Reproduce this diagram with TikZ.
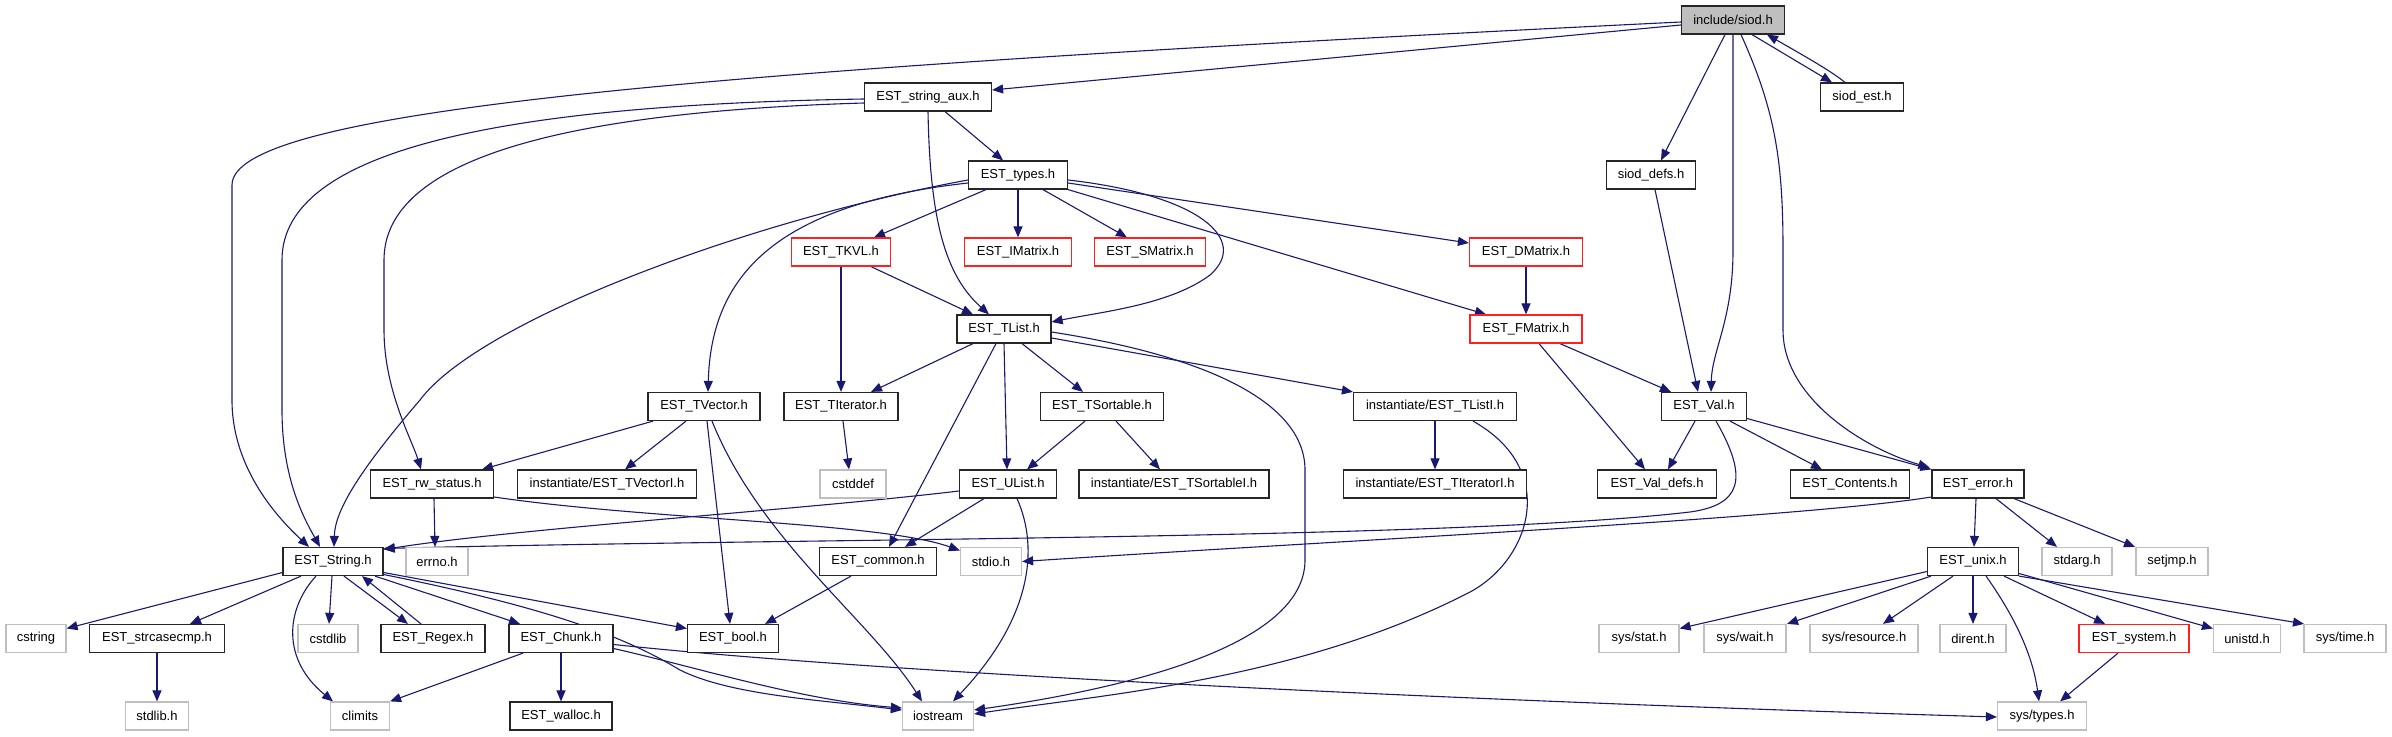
\documentclass[tikz,border=0pt]{standalone}
\usepackage{fontspec}
\setmainfont{Liberation Sans}
\usetikzlibrary{arrows.meta,backgrounds}
\definecolor{edgec}{HTML}{191970}
\definecolor{grayb}{HTML}{BFBFBF}
\definecolor{redc}{HTML}{FF2020}
\begin{document}
\begin{tikzpicture}[x=1pt,y=-1pt,
 box/.style={draw=black!85,line width=1.2pt,minimum height=28pt,inner sep=0pt,font=\fontsize{13}{15}\selectfont,fill=white},
 sys/.style={box,draw=grayb},
 redb/.style={box,draw=redc},
 root/.style={box,fill=grayb},
 e/.style={draw=edgec,line width=1.1pt,-{Triangle[length=11pt,width=9pt]}}]
\useasboundingbox (0,0) rectangle (2392,736);
% row 0
\node[root,minimum width=103pt] (siod) at (1733,20) {include/siod.h};
% row 1
\node[box,minimum width=127pt] (saux) at (928,97) {EST\_string\_aux.h};
\node[box,minimum width=83pt] (sest) at (1862,97) {siod\_est.h};
% row 2
\node[box,minimum width=99pt] (types) at (1018,175) {EST\_types.h};
\node[box,minimum width=89pt] (sdefs) at (1651,175) {siod\_defs.h};
% row 3
\node[redb,minimum width=99pt] (tkvl) at (841,252) {EST\_TKVL.h};
\node[redb,minimum width=107pt] (imat) at (1018,252) {EST\_IMatrix.h};
\node[redb,minimum width=111pt] (smat) at (1150,252) {EST\_SMatrix.h};
\node[redb,minimum width=113pt] (dmat) at (1526,252) {EST\_DMatrix.h};
% row 4
\node[box,minimum width=94pt] (tlist) at (1004,329) {EST\_TList.h};
\node[redb,minimum width=112pt] (fmat) at (1526,329) {EST\_FMatrix.h};
% row 5
\node[box,minimum width=112pt] (tvec) at (704,406.5) {EST\_TVector.h};
\node[box,minimum width=114pt] (titer) at (841,406.5) {EST\_TIterator.h};
\node[box,minimum width=123pt] (tsort) at (1102,406.5) {EST\_TSortable.h};
\node[box,minimum width=163pt] (tlisti) at (1435,406.5) {instantiate/EST\_TListI.h};
\node[box,minimum width=85pt] (val) at (1704,406.5) {EST\_Val.h};
% row 6
\node[box,minimum width=123pt] (rw) at (432,484) {EST\_rw\_status.h};
\node[box,minimum width=179pt] (tveci) at (607,484) {instantiate/EST\_TVectorI.h};
\node[sys,minimum width=66pt] (cstddef) at (853,484) {cstddef};
\node[box,minimum width=97pt] (ulist) at (1008,484) {EST\_UList.h};
\node[box,minimum width=190pt] (tsorti) at (1174,484) {instantiate/EST\_TSortableI.h};
\node[box,minimum width=183pt] (titeri) at (1435,484) {instantiate/EST\_TIteratorI.h};
\node[box,minimum width=119pt] (valdefs) at (1657,484) {EST\_Val\_defs.h};
\node[box,minimum width=119pt] (contents) at (1850,484) {EST\_Contents.h};
\node[box,minimum width=92pt] (error) at (1978,484) {EST\_error.h};
% row 7
\node[box,minimum width=100pt] (string) at (333,561.5) {EST\_String.h};
\node[sys,minimum width=62pt] (errno) at (437,561.5) {errno.h};
\node[box,minimum width=117pt] (common) at (878,561.5) {EST\_common.h};
\node[sys,minimum width=61pt] (stdio) at (991,561.5) {stdio.h};
\node[box,minimum width=91pt] (unix) at (1973,561.5) {EST\_unix.h};
\node[sys,minimum width=70pt] (stdarg) at (2077,561.5) {stdarg.h};
\node[sys,minimum width=72pt] (setjmp) at (2172,561.5) {setjmp.h};
% row 8
\node[sys,minimum width=60pt] (cstring) at (36,638.5) {cstring};
\node[box,minimum width=135pt] (strcase) at (157,638.5) {EST\_strcasecmp.h};
\node[sys,minimum width=60pt] (cstdlib) at (328,638.5) {cstdlib};
\node[box,minimum width=104pt] (regex) at (433,638.5) {EST\_Regex.h};
\node[box,minimum width=104pt] (chunk) at (561,638.5) {EST\_Chunk.h};
\node[box,minimum width=91pt] (bool) at (733,638.5) {EST\_bool.h};
\node[sys,minimum width=80pt] (sysstat) at (1639,638.5) {sys/stat.h};
\node[sys,minimum width=82pt] (syswait) at (1745,638.5) {sys/wait.h};
\node[sys,minimum width=108pt] (sysres) at (1864,638.5) {sys/resource.h};
\node[sys,minimum width=66pt] (dirent) at (1973,638.5) {dirent.h};
\node[redb,minimum width=110pt] (system) at (2134,638.5) {EST\_system.h};
\node[sys,minimum width=67pt] (unistd) at (2247,638.5) {unistd.h};
\node[sys,minimum width=82pt] (systime) at (2345,638.5) {sys/time.h};
% row 9
\node[sys,minimum width=63pt] (stdlib) at (157,716) {stdlib.h};
\node[sys,minimum width=59pt] (climits) at (360,716) {climits};
\node[box,minimum width=102pt] (walloc) at (561,716) {EST\_walloc.h};
\node[sys,minimum width=71pt] (iostream) at (938,716) {iostream};
\node[sys,minimum width=89pt] (systypes) at (2042,716) {sys/types.h};

\begin{pgfonlayer}{background}
% from include/siod.h
\draw[e] ([yshift=-5pt]siod.west) -- ([yshift=7pt]saux.east);
\draw[e] ([yshift=-2pt]siod.west) .. controls (700,70) and (232,110) .. (232,185) -- (232,400) .. controls (232,470) and (280,520) .. ([xshift=-24pt]string.north);
\draw[e] ([xshift=-8pt]siod.south) -- ([xshift=10pt]sdefs.north);
\draw[e] (siod.south) -- (1733,250) .. controls (1733,320) and (1712,350) .. ([xshift=7pt]val.north);
\draw[e] ([xshift=8pt]siod.south) .. controls (1775,110) and (1783,160) .. (1783,250) -- (1783,330) .. controls (1783,400) and (1868,450) .. ([xshift=-2pt,yshift=2pt]error.north west);
\draw[e] ([xshift=19pt]siod.south) -- ([xshift=-30pt]sest.north);
\draw[e] ([xshift=-17pt]sest.north) .. controls (1832,72) and (1815,62) .. ([xshift=34pt]siod.south);
% EST_string_aux.h
\draw[e] ([yshift=-2pt]saux.west) .. controls (500,105) and (282,150) .. (282,260) -- (282,410) .. controls (282,480) and (305,520) .. ([xshift=-13pt]string.north);
\draw[e] ([yshift=-6pt]saux.west) .. controls (560,112) and (384,160) .. (384,260) -- (384,330) .. controls (384,390) and (412,440) .. ([xshift=-11pt]rw.north);
\draw[e] ([xshift=17pt]saux.south) -- ([xshift=-15pt]types.north);
\draw[e] (saux.south) .. controls (930,220) and (945,275) .. ([xshift=-15pt]tlist.north);
% EST_types.h
\draw[e] ([yshift=-5pt]types.west) .. controls (750,220) and (480,320) .. (420,400) .. controls (360,470) and (335,510) .. ([xshift=1pt]string.north);
\draw[e] ([yshift=-8pt]types.west) .. controls (770,205) and (711,280) .. ([xshift=4pt]tvec.north);
\draw[e] ([xshift=-32pt]types.south) -- ([xshift=33pt]tkvl.north);
\draw[e] (types.south) -- (imat.north);
\draw[e] ([xshift=25pt]types.south) -- ([xshift=-23pt]smat.north);
\draw[e] ([yshift=-8pt]types.east) -- ([yshift=9pt]dmat.west);
\draw[e] (types.south east) -- ([xshift=-40pt]fmat.north);
\draw[e] ([yshift=-5pt]types.east) .. controls (1200,195) and (1250,240) .. (1210,275) .. controls (1170,305) and (1100,312) .. ([yshift=7pt]tlist.east);
% EST_TKVL.h, EST_DMatrix.h, EST_FMatrix.h
\draw[e] ([xshift=30pt]tkvl.south) -- ([xshift=-31pt]tlist.north);
\draw[e] (tkvl.south) -- (titer.north);
\draw[e] (dmat.south) -- (fmat.north);
\draw[e] ([xshift=34pt]fmat.south) -- ([xshift=-33pt]val.north);
\draw[e] ([xshift=13pt]fmat.south) -- ([xshift=-12pt]valdefs.north);
% siod_defs.h
\draw[e] ([xshift=4pt]sdefs.south) -- ([xshift=-6pt]val.north);
% EST_Val.h
\draw[e] ([xshift=-9pt]val.south) -- ([xshift=11pt]valdefs.north);
\draw[e] ([xshift=26pt]val.south) -- ([xshift=-28pt]contents.north);
\draw[e] ([yshift=-12pt]val.east) -- (error.north west);
\draw[e] ([xshift=12pt]val.south) .. controls (1750,480) and (1740,505) .. (1690,512) .. controls (1450,540) and (800,538) .. ([yshift=13pt]string.east);
% EST_TList.h
\draw[e] ([xshift=-31pt]tlist.south) -- ([xshift=30pt]titer.north);
\draw[e] ([xshift=-8pt]tlist.south) -- ([xshift=11pt]common.north);
\draw[e] (tlist.south) -- ([xshift=-1pt]ulist.north);
\draw[e] ([xshift=18pt]tlist.south) -- ([xshift=-19pt]tsort.north);
\draw[e] ([yshift=-9pt]tlist.east) -- (tlisti.north west);
\draw[e] ([yshift=-3pt]tlist.east) .. controls (1200,355) and (1305,400) .. (1305,470) -- (1305,560) .. controls (1305,640) and (1150,685) .. ([yshift=6pt]iostream.east);
% instantiate/EST_TListI.h
\draw[e] (tlisti.south) -- (titeri.north);
\draw[e] ([xshift=38pt]tlisti.south) .. controls (1560,470) and (1530,560) .. (1470,592) .. controls (1300,680) and (1100,695) .. ([yshift=2pt]iostream.east);
% EST_TIterator.h, EST_TSortable.h
\draw[e] ([xshift=2pt]titer.south) -- ([xshift=-4pt]cstddef.north);
\draw[e] ([xshift=-17pt]tsort.south) -- ([xshift=19pt]ulist.north);
\draw[e] ([xshift=14pt]tsort.south) -- ([xshift=-14pt]tsorti.north);
% EST_TVector.h
\draw[e] ([xshift=-51pt]tvec.south) -- ([xshift=50pt]rw.north);
\draw[e] ([xshift=-18pt]tvec.south) -- ([xshift=18pt]tveci.north);
\draw[e] ([xshift=3pt]tvec.south) -- ([xshift=-3pt]bool.north);
\draw[e] ([xshift=8pt]tvec.south) .. controls (760,540) and (870,620) .. ([xshift=-16pt]iostream.north);
% EST_UList.h
\draw[e] ([yshift=-7pt]ulist.west) .. controls (800,510) and (520,528) .. ([yshift=12pt]string.east);
\draw[e] ([xshift=-24pt]ulist.south) -- ([xshift=27pt]common.north);
\draw[e] ([xshift=9pt]ulist.south) .. controls (1040,550) and (1030,620) .. ([xshift=15pt]iostream.north);
% EST_rw_status.h
\draw[e] ([yshift=-13pt]rw.east) .. controls (650,520) and (880,522) .. ([yshift=11pt]stdio.west);
\draw[e] ([xshift=2pt]rw.south) -- ([xshift=-2pt]errno.north);
% EST_common.h
\draw[e] ([xshift=-27pt]common.south) -- ([xshift=32pt]bool.north);
% EST_error.h
\draw[e] ([yshift=-13pt]error.west) .. controls (1800,518) and (1350,540) .. (stdio.east);
\draw[e] ([xshift=-2pt]error.south) -- ([xshift=1pt]unix.north);
\draw[e] ([xshift=18pt]error.south) -- ([xshift=-20pt]stdarg.north);
\draw[e] ([xshift=36pt]error.south) -- ([xshift=-37pt]setjmp.north);
% EST_String.h
\draw[e] ([yshift=-11pt]string.west) -- ([yshift=10pt]cstring.east);
\draw[e] ([xshift=-32pt]string.south) -- ([xshift=33pt]strcase.north);
\draw[e] ([xshift=-17pt]string.south) .. controls (285,610) and (282,660) .. ([xshift=-27pt]climits.north);
\draw[e] ([xshift=-1pt]string.south) -- ([xshift=1pt]cstdlib.north);
\draw[e] ([xshift=11pt]string.south) -- ([xshift=-25pt]regex.north);
\draw[e] ([xshift=-12pt]regex.north) -- ([xshift=29pt]string.south);
\draw[e] ([xshift=42pt]string.south) -- ([xshift=-41pt]chunk.north);
\draw[e] ([yshift=-11pt]string.east) -- ([yshift=10pt]bool.west);
\draw[e] ([yshift=-13pt]string.east) .. controls (560,610) and (630,640) .. (680,670) .. controls (730,695) and (820,700) .. ([yshift=6pt]iostream.west);
% EST_strcasecmp.h, EST_Chunk.h
\draw[e] (strcase.south) -- (stdlib.north);
\draw[e] ([xshift=-38pt]chunk.south) -- (climits.north east);
\draw[e] (chunk.south) -- (walloc.north);
\draw[e] ([yshift=-10pt]chunk.east) .. controls (700,668) and (800,700) .. ([yshift=8pt]iostream.west);
\draw[e] ([yshift=-6pt]chunk.east) .. controls (900,675) and (1500,702) .. ([yshift=-1pt]systypes.west);
% EST_unix.h
\draw[e] ([yshift=-10pt]unix.west) -- ([yshift=10pt]sysstat.east);
\draw[e] ([xshift=-42pt]unix.south) -- ([xshift=42pt]syswait.north);
\draw[e] ([xshift=-20pt]unix.south) -- ([xshift=19pt]sysres.north);
\draw[e] (unix.south) -- (dirent.north);
\draw[e] ([xshift=13pt]unix.south) .. controls (2010,610) and (2032,650) .. ([xshift=-3pt]systypes.north);
\draw[e] ([xshift=31pt]unix.south) -- ([xshift=-29pt]system.north);
\draw[e] ([yshift=-12pt]unix.east) -- ([yshift=10pt]unistd.west);
\draw[e] (unix.south east) -- ([xshift=-41pt]systime.north);
% EST_system.h
\draw[e] ([xshift=-16pt]system.south) -- ([xshift=18pt]systypes.north);
\end{pgfonlayer}
\end{tikzpicture}
\end{document}
